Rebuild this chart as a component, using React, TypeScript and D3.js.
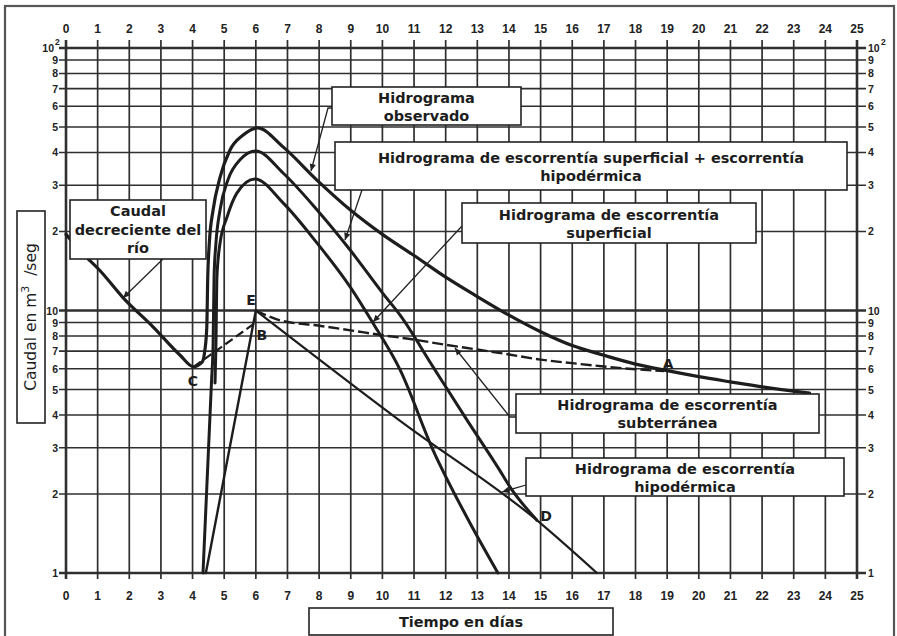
import React from "react";
import * as d3 from "d3";

type Pt = [number, number];

// ---- axes ----
const dayTicks: number[] = d3.range(0, 26);
const yTickValues: number[] = [1, 2, 3, 4, 5, 6, 7, 8, 9, 10, 20, 30, 40, 50, 60, 70, 80, 90, 100];
const yTickLabels: string[] = ["1", "2", "3", "4", "5", "6", "7", "8", "9", "10", "2", "3", "4", "5", "6", "7", "8", "9", "10"];

// ---- series (day, m3/s) ----
const recession: Pt[] = [
  [0, 19.5], [0.66, 15.9], [1.07, 14.2], [1.8, 11.2], [2.75, 8.67], [3.6, 6.77], [4.03, 6.1],
];
const observed: Pt[] = [
  [4.03, 6.1], [4.3, 6.35], [4.39, 7.07], [4.45, 8.67], [4.48, 13.4], [4.53, 18.1], [4.65, 24.2],
  [4.87, 32.2], [5.18, 40.8], [5.6, 46.6], [6.05, 49.6], [6.86, 42], [7.93, 31.4], [8.98, 24.2],
  [10, 19.5], [11, 16.2], [12, 13.4], [13, 11.3], [14, 9.6], [15, 8.3], [16, 7.35], [17, 6.75],
  [18, 6.25], [19, 5.9], [20, 5.6], [21, 5.35], [22, 5.12], [23, 4.93], [23.5, 4.85],
];
const supHipo: Pt[] = [
  [4.33, 1], [4.6, 5.4], [4.65, 7.5], [4.68, 13.4], [4.74, 18.1], [4.87, 24.2], [5.12, 31.5],
  [5.5, 37.5], [6.0, 40.5], [6.86, 33.4], [7.93, 24.2], [8.98, 17], [10.02, 11.6], [10.56, 9.6],
  [11.6, 6.1], [12.67, 3.83], [13.7, 2.47], [14.03, 2.13], [14.88, 1.59],
];
const superficial: Pt[] = [
  [4.71, 5.3], [4.74, 7.5], [4.77, 13.4], [4.87, 18.1], [5.09, 22.7], [5.4, 28], [5.97, 31.7],
  [6.86, 25.7], [7.93, 18.1], [8.98, 12.3], [9.7, 8.96], [10.56, 5.94], [11.6, 2.94], [12.67, 1.63],
  [13.65, 1.0],
];
const hipoRise: Pt[] = [[4.42, 1], [6.0, 10]];
const hipoFall: Pt[] = [[6.0, 10], [10.56, 3.8], [14.88, 1.59], [16.78, 1.0]];
const baseCB: Pt[] = [[4.03, 6.1], [6.0, 9.0]];
const baseBA: Pt[] = [
  [6.0, 10], [6.8, 9.15], [8, 8.75], [9, 8.4], [10, 8.05], [11, 7.75], [12, 7.4], [13, 7.1],
  [14, 6.8], [15, 6.5], [16, 6.3], [17, 6.12], [18, 5.97], [18.9, 5.88],
];

// ---- point letters (day, value) ----
const pointNames: string[] = ["C", "E", "B", "D", "A"];
const pointDays: number[] = [4.01, 5.85, 6.19, 15.17, 19.03];
const pointValues: number[] = [5.39, 11.0, 8.06, 1.65, 6.25];

// ---- annotation texts ----
const riverLines = ["Caudal", "decreciente del", "río"];
const obsLines = ["Hidrograma", "observado"];
const supHipLines = ["Hidrograma de escorrentía superficial + escorrentía", "hipodérmica"];
const supLines = ["Hidrograma de escorrentía", "superficial"];
const subLines = ["Hidrograma de escorrentía", "subterránea"];
const hipoLines = ["Hidrograma de escorrentía", "hipodérmica"];

const BOX_FONT = "'DejaVu Sans', sans-serif";
const TICK_FONT = "'Liberation Sans', Arial, sans-serif";
const INK = "#1d1d1d";
const GRID = "#2f2f2f";

function Box(props: { x: number; y: number; w: number; h: number; lines: string[]; baselines: number[] }) {
  const { x, y, w, h, lines, baselines } = props;
  return (
    <g>
      <rect x={x} y={y} width={w} height={h} fill="#fff" stroke="#222" strokeWidth={1.6} />
      {lines.map((t, i) => (
        <text key={i} x={x + w / 2} y={baselines[i]} textAnchor="middle" fontFamily={BOX_FONT}
          fontWeight="bold" fontSize={14.5} fill={INK}>{t}</text>
      ))}
    </g>
  );
}

export default function App() {
  const x = d3.scaleLinear().domain([0, 25]).range([66, 857]);
  const y = d3.scaleLog().domain([1, 100]).range([573, 48]);
  const smooth = d3.line<Pt>().x(d => x(d[0])).y(d => y(d[1])).curve(d3.curveMonotoneX);
  const straight = d3.line<Pt>().x(d => x(d[0])).y(d => y(d[1]));
  const poly = d3.line<Pt>();

  const heavy = (v: number) => v === 1 || v === 10 || v === 100;

  return (
    <div style={{ position: "absolute", left: 0, top: 0 }}>
      <svg width={897} height={636} style={{ display: "block", background: "#fff" }}>
        <defs>
          <marker id="arr" viewBox="0 0 10 10" refX={10} refY={5} markerWidth={9} markerHeight={7}
            markerUnits="userSpaceOnUse" orient="auto">
            <path d="M0,0.5 L10,5 L0,9.5 z" fill="#222" />
          </marker>
        </defs>
        <rect x={5} y={6} width={889} height={640} fill="none" stroke="#555" strokeWidth={2.2} />

        {/* grid */}
        <g stroke={GRID}>
          {dayTicks.map(d => (
            <line key={"v" + d} x1={x(d)} x2={x(d)} y1={40} y2={579}
              strokeWidth={d === 0 || d === 25 ? 2.6 : 1.7} />
          ))}
          {yTickValues.map(v => (
            <line key={"h" + v} x1={59} x2={866} y1={y(v)} y2={y(v)} strokeWidth={heavy(v) ? 2.6 : 1.6} />
          ))}
        </g>

        {/* tick labels */}
        <g fontFamily={TICK_FONT} fontWeight="bold" fill="#222">
          {dayTicks.map(d => (
            <text key={"t" + d} x={x(d)} y={29} fontSize={12} textAnchor="middle" dominantBaseline="central">{d}</text>
          ))}
          {dayTicks.map(d => (
            <text key={"b" + d} x={x(d)} y={596} fontSize={12} textAnchor="middle" dominantBaseline="central">{d}</text>
          ))}
          {yTickValues.map((v, i) => (
            <text key={"l" + v} x={v === 100 ? 54 : 58} y={y(v)} fontSize={10.5} textAnchor="end" dominantBaseline="central">
              {yTickLabels[i]}
            </text>
          ))}
          {yTickValues.map((v, i) => (
            <text key={"r" + v} x={868} y={y(v)} fontSize={10.5} textAnchor="start" dominantBaseline="central">
              {yTickLabels[i]}
            </text>
          ))}
          <text x={55} y={y(100) - 6} fontSize={8.5} textAnchor="start" dominantBaseline="central">2</text>
          <text x={881} y={y(100) - 6} fontSize={8.5} textAnchor="start" dominantBaseline="central">2</text>
        </g>

        {/* curves */}
        <g fill="none" stroke={INK} strokeLinejoin="round" strokeLinecap="round">
          <path d={smooth([...recession, ...observed.slice(1)]) || ""} strokeWidth={3.2} />
          <path d={smooth(supHipo) || ""} strokeWidth={3} />
          <path d={smooth(superficial) || ""} strokeWidth={3} />
          <path d={straight(hipoRise) || ""} strokeWidth={2.4} />
          <path d={smooth(hipoFall) || ""} strokeWidth={2.2} />
          <path d={straight(baseCB) || ""} strokeWidth={2.2} strokeDasharray="9 4" strokeLinecap="butt" />
          <path d={smooth(baseBA) || ""} strokeWidth={2.4} strokeDasharray="11 4" strokeLinecap="butt" />
        </g>

        {/* point letters */}
        <g fontFamily={BOX_FONT} fontWeight="bold" fontSize={14} fill={INK}>
          {pointNames.map((n, i) => (
            <text key={n} x={x(pointDays[i])} y={y(pointValues[i])} textAnchor="middle" dominantBaseline="central">{n}</text>
          ))}
        </g>

        {/* pointers */}
        <g fill="none" stroke="#222" strokeWidth={1.3}>
          <path d={poly([[163, 259], [123, 298]]) || ""} markerEnd="url(#arr)" />
          <path d={poly([[332, 108], [328, 108], [311, 171]]) || ""} markerEnd="url(#arr)" />
          <path d={poly([[362, 190], [345, 240]]) || ""} markerEnd="url(#arr)" />
          <path d={poly([[462, 226], [373, 322]]) || ""} markerEnd="url(#arr)" />
          <path d={poly([[516, 417], [510, 417], [455, 348]]) || ""} markerEnd="url(#arr)" />
          <path d={poly([[526, 485], [502, 492]]) || ""} markerEnd="url(#arr)" />
        </g>

        {/* annotation boxes */}
        <Box x={70} y={200} w={136} h={59} lines={riverLines} baselines={[216, 235, 253]} />
        <Box x={332} y={87} w={189} h={38} lines={obsLines} baselines={[103, 121]} />
        <Box x={335} y={142} w={512} h={48} lines={supHipLines} baselines={[163, 181]} />
        <Box x={462} y={203} w={294} h={40} lines={supLines} baselines={[220, 238]} />
        <Box x={516} y={394} w={303} h={39} lines={subLines} baselines={[410, 428]} />
        <Box x={526} y={458} w={318} h={38} lines={hipoLines} baselines={[474, 492]} />

        {/* axis titles */}
        <rect x={17} y={211} width={28} height={212} fill="#fff" stroke="#222" strokeWidth={1.6} />
        <text transform="translate(36,317) rotate(-90)" textAnchor="middle" fontFamily={BOX_FONT}
          fontSize={15.5} fill={INK}>
          {"Caudal en m"}<tspan fontSize={11} dy={-7}>3</tspan><tspan dy={7}>{"\u00a0\u00a0/seg"}</tspan>
        </text>
        <rect x={309} y={608} width={304} height={27} fill="#fff" stroke="#222" strokeWidth={1.6} />
        <text x={461} y={627} textAnchor="middle" fontFamily={BOX_FONT} fontWeight="bold" fontSize={14.5}
          fill={INK}>Tiempo en días</text>
      </svg>
    </div>
  );
}
